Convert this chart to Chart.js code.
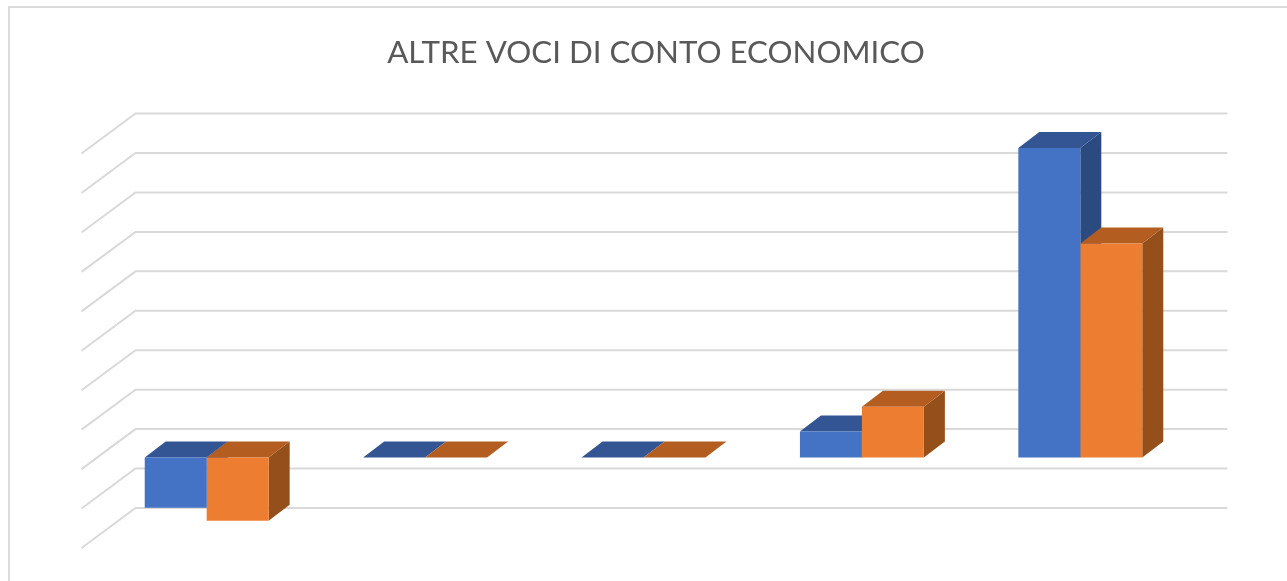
<!DOCTYPE html>
<html>
<head>
<meta charset="utf-8">
<script src="https://cdn.jsdelivr.net/npm/chart.js@4"></script>
<style>
  html, body { margin: 0; padding: 0; background: #fff; overflow: hidden; }
  #frame { position: absolute; left: 8px; top: 6px; width: 1400px; height: 700px; border: 2px solid #dcdcdc; }
  #wrap { position: absolute; left: 0; top: 0; width: 1287px; height: 581px; }
</style>
</head>
<body>
<div id="frame"></div>
<div id="wrap"><canvas id="chart"></canvas></div>
<script>
// the original has no axis labels, so the categories stay hidden
const categories = ['1', '2', '3', '4', '5'];
const series1 = [-1.27, 0, 0, 0.66, 7.85];
const series2 = [-1.6, 0, 0, 1.29, 5.43];

// ── fake 3D: offsets of the floor and of the bar depth, in px
const FRONT = { dx: -16, dy: 11.5 };
const BACK = { dx: 38, dy: -28.5 };
const DEPTH = { dx: 21, dy: -16 };

function poly(ctx, pts, color) {
  ctx.fillStyle = color;
  ctx.beginPath();
  pts.forEach((p, i) => i ? ctx.lineTo(p[0], p[1]) : ctx.moveTo(p[0], p[1]));
  ctx.closePath();
  ctx.fill();
}

const walls = {
  id: 'walls',
  afterLayout(chart) {
    // the title sits a bit right of the plot centre in the original
    chart.titleBlock.left += 12.5;
    chart.titleBlock.right += 12.5;
  },
  beforeDatasetsDraw(chart) {
    const { ctx, chartArea, scales } = chart;
    ctx.save();
    ctx.strokeStyle = '#d9d9d9';
    ctx.lineWidth = 2;
    scales.y.ticks.forEach(t => {
      const y = scales.y.getPixelForValue(t.value);
      ctx.beginPath();
      ctx.moveTo(chartArea.left + FRONT.dx, y + FRONT.dy);
      ctx.lineTo(chartArea.left + BACK.dx, y + BACK.dy);
      ctx.lineTo(chartArea.right + BACK.dx, y + BACK.dy);
      ctx.stroke();
    });
    // side and top faces go first, the library then paints the front faces over them
    chart.data.datasets.forEach((ds, i) => {
      chart.getDatasetMeta(i).data.forEach(bar => {
        const { x, y, base, width } = bar.getProps(['x', 'y', 'base', 'width'], true);
        const l = x - width / 2, r = x + width / 2;
        const top = Math.min(y, base), bot = Math.max(y, base);
        poly(ctx, [[r, top], [r + DEPTH.dx, top + DEPTH.dy], [r + DEPTH.dx, bot + DEPTH.dy], [r, bot]], ds.sideColor);
        poly(ctx, [[l, top], [l + DEPTH.dx, top + DEPTH.dy], [r + DEPTH.dx, top + DEPTH.dy], [r, top]], ds.topColor);
      });
    });
    ctx.restore();
  }
};

new Chart(document.getElementById('chart'), {
  type: 'bar',
  data: {
    labels: categories,
    datasets: [
      { label: 'Serie 1', data: series1, backgroundColor: '#4472c4', topColor: '#335593', sideColor: '#2a4a80' },
      { label: 'Serie 2', data: series2, backgroundColor: '#ed7d31', topColor: '#b35d21', sideColor: '#954f1a' }
    ]
  },
  options: {
    responsive: true,
    maintainAspectRatio: false,
    animation: false,
    layout: { padding: { left: 97.5, right: 97.5, top: 0, bottom: 44.5 } },
    categoryPercentage: 0.5675,
    barPercentage: 1,
    plugins: {
      legend: { display: false },
      tooltip: { enabled: false },
      title: {
        display: true,
        text: 'ALTRE VOCI DI CONTO ECONOMICO',
        color: '#595959',
        font: { family: 'Lato', size: 31.3, weight: 'normal', lineHeight: 1.2 },
        padding: { top: 34.5, bottom: 70 }
      }
    },
    scales: {
      x: { display: false },
      y: { display: false, min: -2, max: 8, ticks: { stepSize: 1 } }
    }
  },
  plugins: [walls]
});
</script>
</body>
</html>
